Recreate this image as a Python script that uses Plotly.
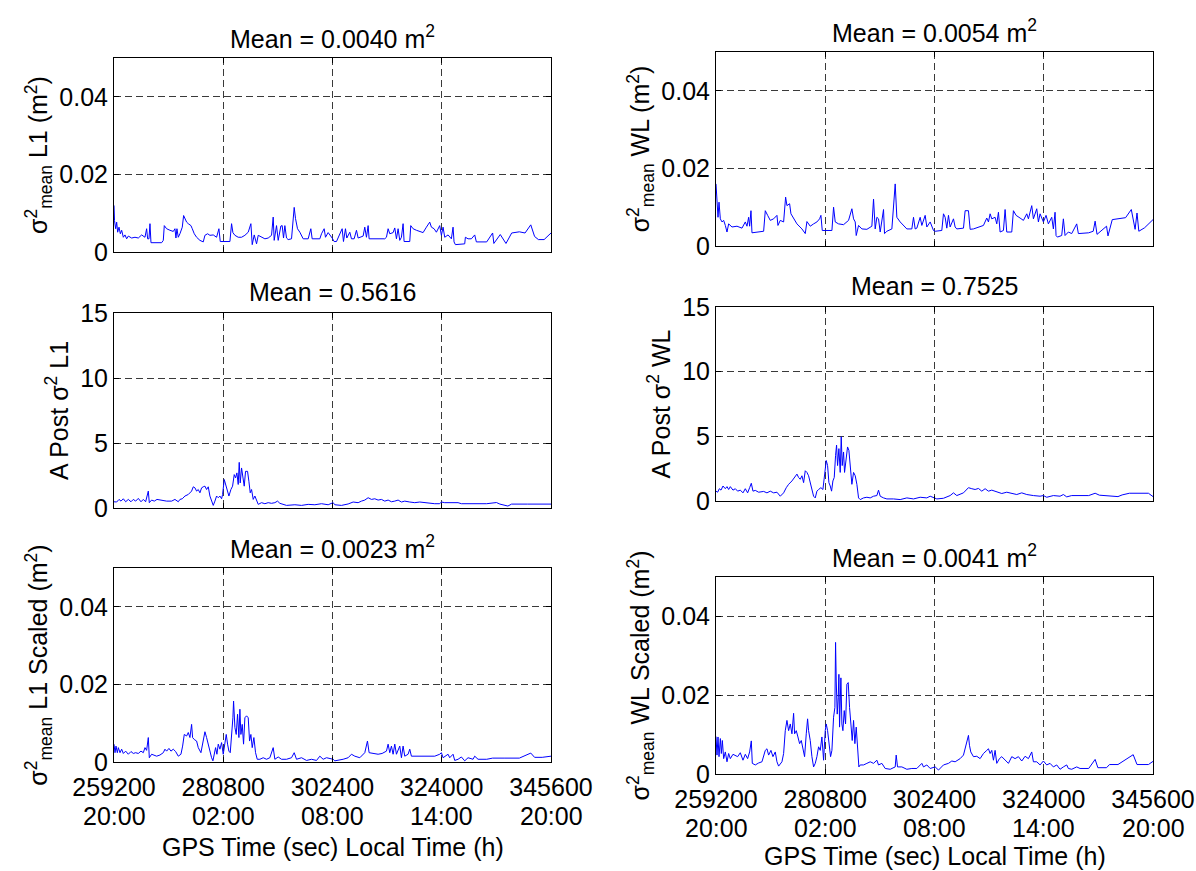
import plotly.graph_objects as go

# ---------------- data ----------------
GPS_TICKS = [259200, 280800, 302400, 324000, 345600]
GPS_TICK_TEXT = ["259200", "280800", "302400", "324000", "345600"]
LOCAL_TICK_TEXT = ["20:00", "02:00", "08:00", "14:00", "20:00"]

t_l1 = [259200, 259300, 259529, 259727, 259924, 260188, 260451, 260715, 261044, 261373, 261702, 262032,
        262690, 263349, 264007, 264666, 265324, 265653, 265851, 266114, 266312, 266509, 268617, 268946,
        269143, 269604, 270263, 270921, 271251, 271448, 271646, 271909, 272238, 272699, 272963, 273226,
        273555, 273885, 274411, 274675, 275070, 275531, 276189, 276848, 277177, 277704, 278165, 278823,
        279482, 279943, 280206, 282116, 282445, 282708, 283104, 283762, 284421, 285079, 285738, 286264,
        286528, 286923, 287384, 287713, 288372, 289030, 289689, 290347, 290676, 290874, 291335, 291664,
        292191, 292454, 292718, 292981, 293310, 293640, 294298, 294825, 295088, 295483, 295944, 296603,
        297591, 298117, 298381, 298908, 299895, 300225, 300751, 301015, 301542, 302332, 302727, 303188,
        304307, 304571, 304966, 305229, 305822, 306151, 306678, 307139, 307468, 308456, 308785, 309114,
        309444, 309641, 312736, 313065, 313395, 313724, 314382, 314712, 315041, 315370, 315699, 316029,
        316358, 316555, 317675, 317872, 318333, 318992, 319650, 320309, 320967, 321626, 321955, 322482,
        322943, 323601, 323931, 324260, 324589, 325248, 325906, 326235, 326433, 326696, 328540, 328672,
        329199, 329857, 330516, 330845, 332886, 334062, 334300, 335570, 336700, 337830, 339340, 340470,
        341600, 342355, 343110, 344240, 345600]
v_l1 = [0.0120, 0.0081, 0.0060, 0.0077, 0.0051, 0.0064, 0.0047, 0.0056, 0.0038, 0.0044, 0.0034, 0.0041,
        0.0036, 0.0038, 0.0036, 0.0044, 0.0038, 0.0060, 0.0034, 0.0034, 0.0073, 0.0024, 0.0024, 0.0030,
        0.0068, 0.0060, 0.0056, 0.0053, 0.0060, 0.0036, 0.0060, 0.0038, 0.0047, 0.0064, 0.0094, 0.0086,
        0.0077, 0.0073, 0.0068, 0.0060, 0.0047, 0.0038, 0.0030, 0.0026, 0.0043, 0.0047, 0.0043, 0.0044,
        0.0038, 0.0060, 0.0027, 0.0027, 0.0073, 0.0050, 0.0043, 0.0038, 0.0038, 0.0043, 0.0051, 0.0073,
        0.0019, 0.0044, 0.0021, 0.0043, 0.0038, 0.0034, 0.0036, 0.0043, 0.0090, 0.0030, 0.0068, 0.0030,
        0.0067, 0.0068, 0.0036, 0.0068, 0.0036, 0.0032, 0.0034, 0.0115, 0.0086, 0.0060, 0.0051, 0.0034,
        0.0034, 0.0060, 0.0034, 0.0034, 0.0034, 0.0047, 0.0060, 0.0038, 0.0050, 0.0036, 0.0027, 0.0027,
        0.0060, 0.0027, 0.0060, 0.0036, 0.0051, 0.0034, 0.0034, 0.0056, 0.0036, 0.0041, 0.0064, 0.0038,
        0.0068, 0.0034, 0.0034, 0.0038, 0.0060, 0.0047, 0.0050, 0.0062, 0.0034, 0.0060, 0.0030, 0.0038,
        0.0073, 0.0027, 0.0027, 0.0068, 0.0060, 0.0056, 0.0053, 0.0050, 0.0064, 0.0077, 0.0064, 0.0060,
        0.0051, 0.0068, 0.0043, 0.0064, 0.0038, 0.0044, 0.0034, 0.0064, 0.0026, 0.0019, 0.0021, 0.0038,
        0.0034, 0.0034, 0.0044, 0.0026, 0.0026, 0.0049, 0.0022, 0.0045, 0.0022, 0.0049, 0.0052, 0.0049,
        0.0070, 0.0040, 0.0032, 0.0032, 0.0049]

t_wl = [259200, 259398, 259595, 259793, 260056, 260385, 260715, 261044, 261373, 261702, 262361, 263349,
        264336, 264995, 265324, 265653, 265851, 266114, 266312, 268617, 268946, 269407, 269934, 270592,
        271251, 271448, 271909, 272567, 272963, 273226, 273753, 274016, 274543, 275202, 276189, 276848,
        277177, 277836, 278494, 279153, 279680, 279943, 280206, 282116, 282445, 282774, 283433, 284421,
        285408, 286067, 286396, 286725, 286923, 287384, 288042, 289030, 290018, 290347, 290676, 291006,
        291335, 291664, 292323, 292520, 292981, 293969, 294627, 294957, 295615, 296274, 296932, 297920,
        298249, 298578, 298908, 299566, 299895, 300554, 300883, 301542, 302200, 302529, 303846, 304176,
        304505, 304834, 305163, 305493, 306151, 306480, 306810, 308127, 308456, 309114, 309444, 310102,
        312078, 312736, 313065, 313395, 313724, 314382, 314712, 315041, 315370, 316029, 316358, 316687,
        317675, 318004, 318531, 319321, 319980, 320638, 320967, 321626, 321955, 322614, 322943, 323272,
        323931, 324457, 324918, 325577, 325906, 326235, 326433, 326696, 327552, 327882, 328211, 328869,
        329528, 330516, 330845, 332886, 333783, 334159, 334535, 336417, 336700, 337546, 340180, 341309,
        342061, 342438, 342800, 343943, 345600]
v_wl = [0.0160, 0.0113, 0.0074, 0.0113, 0.0070, 0.0062, 0.0066, 0.0053, 0.0036, 0.0057, 0.0049, 0.0051,
        0.0046, 0.0062, 0.0051, 0.0074, 0.0051, 0.0091, 0.0034, 0.0038, 0.0091, 0.0079, 0.0066, 0.0070,
        0.0079, 0.0053, 0.0066, 0.0062, 0.0126, 0.0104, 0.0109, 0.0083, 0.0070, 0.0057, 0.0044, 0.0032,
        0.0063, 0.0051, 0.0057, 0.0062, 0.0070, 0.0079, 0.0040, 0.0040, 0.0100, 0.0062, 0.0057, 0.0055,
        0.0066, 0.0096, 0.0070, 0.0062, 0.0027, 0.0053, 0.0044, 0.0043, 0.0051, 0.0121, 0.0044, 0.0074,
        0.0070, 0.0036, 0.0094, 0.0032, 0.0038, 0.0044, 0.0160, 0.0074, 0.0062, 0.0053, 0.0044, 0.0044,
        0.0074, 0.0044, 0.0046, 0.0074, 0.0053, 0.0079, 0.0049, 0.0062, 0.0040, 0.0038, 0.0040, 0.0083,
        0.0074, 0.0046, 0.0079, 0.0049, 0.0070, 0.0049, 0.0044, 0.0046, 0.0091, 0.0091, 0.0043, 0.0044,
        0.0053, 0.0072, 0.0062, 0.0083, 0.0070, 0.0074, 0.0057, 0.0087, 0.0036, 0.0040, 0.0094, 0.0036,
        0.0036, 0.0091, 0.0079, 0.0072, 0.0066, 0.0083, 0.0070, 0.0104, 0.0070, 0.0096, 0.0062, 0.0083,
        0.0062, 0.0079, 0.0057, 0.0074, 0.0044, 0.0087, 0.0027, 0.0023, 0.0027, 0.0070, 0.0027, 0.0036,
        0.0032, 0.0057, 0.0032, 0.0034, 0.0038, 0.0064, 0.0030, 0.0051, 0.0026, 0.0068, 0.0073, 0.0094,
        0.0043, 0.0085, 0.0038, 0.0047, 0.0068]

t_ap_l1 = [259200, 259727, 260188, 260583, 261044, 261505, 262032, 262558, 263019, 263480, 264007, 264534,
           264995, 265456, 265983, 266180, 266641, 267168, 267695, 268617, 269604, 270592, 271251, 271909,
           272238, 272699, 273226, 273885, 274543, 274872, 275202, 275531, 275860, 276189, 276519, 276848,
           277177, 277506, 277836, 278165, 278494, 278823, 279153, 279482, 279811, 280140, 280470, 280667,
           280996, 281260, 281655, 281918, 282313, 282643, 282972, 283235, 283499, 283762, 283960, 284158,
           284421, 284684, 284947, 285211, 285606, 285869, 286133, 286396, 286725, 287055, 287384, 287713,
           288372, 289030, 289689, 290347, 291006, 291532, 291993, 292652, 293310, 294957, 296274, 297591,
           298908, 300225, 301542, 302529, 302859, 304176, 305493, 306480, 307468, 308127, 308785, 309444,
           310102, 310761, 311419, 312078, 312736, 313395, 314053, 314712, 315370, 316029, 316687, 317675,
           318663, 319650, 320638, 321297, 322614, 323601, 323931, 324589, 325577, 326565, 327223, 327882,
           329199, 331175, 332886, 334816, 335500, 337078, 337800, 341000, 345600]
v_ap_l1 = [0.48, 0.46, 0.66, 0.53, 0.71, 0.48, 0.66, 0.48, 0.66, 0.53, 0.74, 0.48,
           0.66, 0.48, 1.30, 0.41, 0.61, 0.53, 0.66, 0.59, 0.53, 0.53, 0.66, 0.48,
           0.66, 0.71, 0.92, 1.04, 1.30, 1.63, 1.55, 1.30, 1.42, 1.17, 1.55, 1.63,
           1.68, 1.42, 1.63, 0.92, 0.53, 0.20, 0.53, 0.92, 0.79, 0.92, 0.71, 1.04,
           2.19, 1.81, 1.17, 0.92, 1.42, 1.68, 2.57, 2.32, 2.70, 1.81, 3.51, 1.93,
           3.08, 2.19, 1.68, 2.82, 2.82, 2.06, 1.17, 1.42, 0.66, 0.92, 0.53, 0.28,
           0.41, 0.33, 0.41, 0.36, 0.41, 0.53, 0.36, 0.28, 0.20, 0.25, 0.20, 0.28,
           0.25, 0.33, 0.25, 0.41, 0.25, 0.20, 0.31, 0.46, 0.41, 0.53, 0.61, 0.79,
           0.66, 0.71, 0.61, 0.66, 0.53, 0.61, 0.48, 0.53, 0.61, 0.46, 0.53, 0.46,
           0.41, 0.46, 0.41, 0.41, 0.33, 0.33, 0.46, 0.41, 0.41, 0.46, 0.41, 0.33,
           0.33, 0.33, 0.33, 0.42, 0.30, 0.15, 0.30, 0.30, 0.30]

t_ap_wl = [259200, 259529, 259859, 260188, 260583, 261044, 261373, 261702, 262032, 262558, 263019, 263480,
           264007, 264534, 264995, 265456, 265851, 266180, 266509, 266970, 267629, 268617, 269275, 269934,
           270592, 271251, 271909, 272567, 273094, 273555, 274214, 274872, 275202, 275531, 275860, 276189,
           276519, 276848, 277177, 277506, 277836, 278165, 278494, 278823, 279153, 279482, 279943, 280338,
           280667, 280996, 281260, 281523, 281787, 282050, 282313, 282577, 282840, 283038, 283235, 283499,
           283762, 283960, 284158, 284421, 284618, 284882, 285211, 285474, 285738, 286067, 286396, 286725,
           287055, 287384, 287713, 288372, 289030, 289689, 290347, 291006, 291335, 291664, 292323, 292981,
           294298, 295615, 296932, 298249, 299566, 300883, 301542, 302200, 302859, 304176, 305493, 306151,
           306810, 308127, 309114, 309773, 310431, 311090, 311748, 312407, 313065, 313724, 314712, 315699,
           316687, 317675, 318663, 319650, 320638, 321955, 323272, 323931, 324589, 325906, 327223, 327882,
           328540, 329528, 332886, 334159, 335000, 338675, 339500, 340933, 344696, 345600]
v_ap_wl = [0.76, 0.68, 0.95, 0.84, 1.16, 0.95, 1.11, 0.89, 1.11, 0.84, 0.95, 0.76,
           0.84, 0.63, 0.95, 0.63, 1.03, 1.37, 0.76, 0.82, 0.68, 0.74, 0.63, 0.76,
           0.63, 0.68, 0.37, 0.63, 1.03, 1.29, 1.55, 1.95, 2.08, 1.82, 1.68, 1.95,
           1.42, 2.34, 2.21, 1.95, 1.42, 0.76, 0.37, 0.24, 0.76, 0.89, 1.03, 0.89,
           1.82, 3.13, 2.74, 1.42, 1.16, 0.76, 1.55, 1.82, 3.53, 4.32, 2.74, 4.05,
           2.21, 4.97, 2.74, 3.79, 2.21, 3.00, 4.18, 3.92, 2.74, 1.29, 2.21, 1.95,
           1.29, 0.24, 0.11, 0.24, 0.29, 0.24, 0.37, 0.42, 0.84, 0.37, 0.24, 0.16,
           0.16, 0.11, 0.24, 0.16, 0.29, 0.24, 0.37, 0.29, 0.16, 0.21, 0.42, 0.63,
           0.42, 0.63, 1.03, 0.95, 0.89, 0.97, 0.76, 0.95, 0.76, 0.84, 0.68, 0.58,
           0.68, 0.58, 0.50, 0.63, 0.50, 0.42, 0.37, 0.42, 0.29, 0.42, 0.37, 0.50,
           0.32, 0.42, 0.42, 0.60, 0.45, 0.34, 0.47, 0.60, 0.60, 0.34]

t_l1s = [259200, 259398, 259595, 259859, 260056, 260385, 260715, 261044, 261505, 262032, 262558, 263019,
         263480, 264007, 264534, 264995, 265324, 265653, 265983, 266180, 266641, 267629, 268287, 268946,
         269275, 269604, 270065, 270460, 270921, 271382, 271909, 272436, 272765, 273094, 273555, 273885,
         274214, 274543, 274741, 275070, 275531, 275860, 276387, 276848, 277177, 277506, 277836, 278165,
         278494, 278757, 279021, 279284, 279548, 279811, 280140, 280470, 280799, 281128, 281391, 281655,
         281918, 282182, 282445, 282708, 282840, 283104, 283367, 283630, 283894, 284091, 284289, 284552,
         284816, 285079, 285408, 285738, 286001, 286264, 286528, 286857, 287186, 287516, 288042, 288701,
         289359, 290018, 290676, 291006, 291664, 292323, 293310, 294298, 294825, 295286, 296274, 297261,
         298249, 299237, 299895, 300554, 301212, 302529, 302859, 303517, 304505, 305493, 306151, 306810,
         307797, 308785, 309312, 309641, 310431, 311419, 312209, 313065, 313395, 313724, 314053, 314382,
         314712, 315041, 315699, 316029, 316358, 316687, 317346, 317675, 318004, 318992, 320309, 321297,
         322614, 323601, 323931, 324260, 325248, 325577, 326235, 326565, 327223, 327882, 328540, 329199,
         330186, 330516, 331175, 332886, 334062, 336324, 339340, 341600, 342355, 343863, 345600]
v_l1s = [0.0046, 0.0024, 0.0041, 0.0024, 0.0037, 0.0024, 0.0033, 0.0022, 0.0028, 0.0020, 0.0027, 0.0022,
         0.0024, 0.0022, 0.0028, 0.0024, 0.0037, 0.0030, 0.0063, 0.0011, 0.0020, 0.0015, 0.0018, 0.0024,
         0.0033, 0.0028, 0.0035, 0.0028, 0.0033, 0.0027, 0.0015, 0.0020, 0.0041, 0.0071, 0.0067, 0.0076,
         0.0063, 0.0097, 0.0063, 0.0058, 0.0054, 0.0037, 0.0024, 0.0054, 0.0078, 0.0063, 0.0046, 0.0024,
         0.0011, 0.0003, 0.0024, 0.0037, 0.0020, 0.0046, 0.0033, 0.0050, 0.0020, 0.0054, 0.0071, 0.0046,
         0.0028, 0.0024, 0.0063, 0.0114, 0.0157, 0.0089, 0.0071, 0.0123, 0.0063, 0.0136, 0.0071, 0.0097,
         0.0046, 0.0114, 0.0119, 0.0114, 0.0054, 0.0071, 0.0037, 0.0063, 0.0024, 0.0007, 0.0007, 0.0011,
         0.0007, 0.0011, 0.0037, 0.0007, 0.0013, 0.0007, 0.0007, 0.0011, 0.0024, 0.0007, 0.0011, 0.0004,
         0.0007, 0.0004, 0.0015, 0.0007, 0.0011, 0.0007, 0.0003, 0.0004, 0.0007, 0.0011, 0.0020, 0.0015,
         0.0011, 0.0024, 0.0054, 0.0024, 0.0022, 0.0020, 0.0022, 0.0028, 0.0046, 0.0024, 0.0041, 0.0020,
         0.0046, 0.0020, 0.0041, 0.0011, 0.0041, 0.0015, 0.0020, 0.0033, 0.0015, 0.0015, 0.0015, 0.0015,
         0.0015, 0.0020, 0.0024, 0.0011, 0.0020, 0.0011, 0.0020, 0.0004, 0.0007, 0.0013, 0.0003, 0.0011,
         0.0007, 0.0015, 0.0007, 0.0007, 0.0010, 0.0010, 0.0010, 0.0023, 0.0012, 0.0012, 0.0015]

t_wls = [259200, 259398, 259595, 259793, 260056, 260254, 260451, 260715, 261044, 261373, 261702, 262032,
         262558, 263019, 263480, 264007, 264534, 264995, 265456, 265851, 266180, 266378, 266970, 267629,
         268287, 268946, 269275, 269604, 270065, 270460, 270921, 271251, 271580, 272238, 272567, 272897,
         273226, 273555, 273885, 274214, 274543, 274741, 275070, 275399, 275728, 276058, 276387, 276716,
         277045, 277309, 277506, 277836, 278165, 278494, 278823, 279153, 279482, 279811, 280140, 280470,
         280799, 280996, 281260, 281589, 281852, 282116, 282445, 282708, 282840, 282972, 283169, 283367,
         283499, 283630, 283894, 284091, 284289, 284552, 284816, 285079, 285342, 285606, 285869, 286133,
         286396, 286659, 286923, 287186, 287450, 287713, 288372, 289030, 289689, 290347, 291006, 291335,
         291993, 292652, 293640, 294627, 294825, 295088, 295944, 296932, 297920, 298908, 299895, 300225,
         300883, 301542, 302529, 303188, 304176, 305163, 305822, 306480, 307468, 308127, 308653, 309114,
         309312, 309575, 310102, 310761, 311419, 312078, 312736, 313065, 313395, 313724, 314053, 314382,
         314712, 315238, 315699, 316358, 317016, 317675, 318333, 318992, 319650, 320309, 320967, 321626,
         321955, 322614, 323272, 323931, 324589, 325248, 325906, 326565, 327223, 327882, 328540, 328869,
         329528, 330516, 331175, 332886, 334159, 334700, 336417, 337000, 338675, 341685, 342438, 344696,
         345600]
v_wls = [0.0095, 0.0048, 0.0094, 0.0044, 0.0090, 0.0052, 0.0085, 0.0039, 0.0056, 0.0031, 0.0052, 0.0039,
         0.0050, 0.0048, 0.0044, 0.0054, 0.0035, 0.0050, 0.0039, 0.0056, 0.0084, 0.0027, 0.0023, 0.0028,
         0.0031, 0.0060, 0.0064, 0.0048, 0.0060, 0.0044, 0.0056, 0.0031, 0.0020, 0.0031, 0.0052, 0.0110,
         0.0136, 0.0110, 0.0127, 0.0102, 0.0154, 0.0102, 0.0110, 0.0094, 0.0077, 0.0085, 0.0060, 0.0044,
         0.0102, 0.0140, 0.0110, 0.0085, 0.0044, 0.0018, 0.0027, 0.0044, 0.0069, 0.0060, 0.0094, 0.0035,
         0.0110, 0.0127, 0.0110, 0.0069, 0.0044, 0.0060, 0.0144, 0.0169, 0.0334, 0.0236, 0.0152, 0.0194,
         0.0253, 0.0119, 0.0244, 0.0127, 0.0110, 0.0161, 0.0127, 0.0228, 0.0232, 0.0169, 0.0127, 0.0085,
         0.0136, 0.0077, 0.0119, 0.0069, 0.0018, 0.0023, 0.0023, 0.0027, 0.0031, 0.0027, 0.0035, 0.0023,
         0.0027, 0.0014, 0.0012, 0.0018, 0.0048, 0.0018, 0.0018, 0.0012, 0.0014, 0.0014, 0.0027, 0.0018,
         0.0023, 0.0014, 0.0018, 0.0010, 0.0023, 0.0027, 0.0033, 0.0031, 0.0039, 0.0048, 0.0073, 0.0098,
         0.0073, 0.0056, 0.0044, 0.0045, 0.0039, 0.0052, 0.0060, 0.0064, 0.0052, 0.0060, 0.0035, 0.0060,
         0.0027, 0.0039, 0.0044, 0.0035, 0.0027, 0.0044, 0.0039, 0.0044, 0.0033, 0.0045, 0.0039, 0.0056,
         0.0031, 0.0031, 0.0023, 0.0033, 0.0023, 0.0027, 0.0018, 0.0023, 0.0012, 0.0018, 0.0023, 0.0014,
         0.0012, 0.0018, 0.0014, 0.0014, 0.0037, 0.0016, 0.0016, 0.0024, 0.0024, 0.0049, 0.0024, 0.0024,
         0.0032]

TITLES = ["Mean = 0.0040 m<sup>2</sup>", "Mean = 0.0054 m<sup>2</sup>",
          "Mean = 0.5616", "Mean = 0.7525",
          "Mean = 0.0023 m<sup>2</sup>", "Mean = 0.0041 m<sup>2</sup>"]
YLABELS = ["σ<sup>2</sup><sub>mean</sub> L1 (m<sup>2</sup>)",
           "σ<sup>2</sup><sub>mean</sub> WL (m<sup>2</sup>)",
           "A Post σ<sup>2</sup> L1",
           "A Post σ<sup>2</sup> WL",
           "σ<sup>2</sup><sub>mean</sub> L1 Scaled (m<sup>2</sup>)",
           "σ<sup>2</sup><sub>mean</sub> WL Scaled (m<sup>2</sup>)"]
XLABEL = "GPS Time (sec) Local Time (h)"

VAR_TICKS = [0, 0.02, 0.04]
VAR_TICK_TEXT = ["0", "0.02", "0.04"]
AP_TICKS = [0, 5, 10, 15]
AP_TICK_TEXT = ["0", "5", "10", "15"]

SERIES = [(t_l1, v_l1), (t_wl, v_wl), (t_ap_l1, v_ap_l1), (t_ap_wl, v_ap_wl), (t_l1s, v_l1s), (t_wls, v_wls)]

# ---------------- layout ----------------
W, H = 1196, 871
FONT = "Liberation Sans, Arial, Helvetica, sans-serif"
FS = 25

# pixel boxes (left, top, right, bottom)
BOXES = [(114, 58, 551, 252), (716, 52, 1153, 246),
         (114, 313, 551, 508), (716, 307, 1153, 501),
         (114, 568, 551, 762), (716, 577, 1153, 774)]

fig = go.Figure()
annotations = []
layout = dict(width=W, height=H, margin=dict(l=0, r=0, t=0, b=0, autoexpand=False),
              paper_bgcolor="white", plot_bgcolor="white",
              font=dict(family=FONT, size=FS, color="black"), showlegend=False)

for i, ((t, v), box) in enumerate(zip(SERIES, BOXES)):
    k = i + 1
    xa = "x" if k == 1 else f"x{k}"
    ya = "y" if k == 1 else f"y{k}"
    fig.add_trace(go.Scatter(x=t, y=v, mode="lines", xaxis=xa, yaxis=ya,
                             line=dict(color="#0000ff", width=1), hoverinfo="skip"))
    l, tp, r, b = box
    xdom = [l / W, r / W]
    ydom = [1 - b / H, 1 - tp / H]
    is_bottom = i >= 4
    is_ap = i in (2, 3)
    common = dict(showline=True, linecolor="black", linewidth=1, mirror="ticks",
                  ticks="inside", ticklen=5, tickcolor="black", tickwidth=1,
                  showgrid=True, gridcolor="#3a3a3a", gridwidth=1, griddash="7px,4px",
                  zeroline=False, automargin=False,
                  tickfont=dict(family=FONT, size=FS, color="black"))
    layout["xaxis" if k == 1 else f"xaxis{k}"] = dict(
        domain=xdom, anchor=ya, range=[GPS_TICKS[0], GPS_TICKS[-1]],
        tickmode="array", tickvals=GPS_TICKS, ticktext=GPS_TICK_TEXT,
        showticklabels=is_bottom, ticklabelstandoff=3, **common)
    layout["yaxis" if k == 1 else f"yaxis{k}"] = dict(
        domain=ydom, anchor=xa, range=[0, 15] if is_ap else [0, 0.05],
        tickmode="array", tickvals=AP_TICKS if is_ap else VAR_TICKS,
        ticktext=AP_TICK_TEXT if is_ap else VAR_TICK_TEXT,
        title=dict(text=YLABELS[i], font=dict(family=FONT, size=FS), standoff=4),
        **common)
    # panel title
    annotations.append(dict(text=TITLES[i], xref="paper", yref="paper",
                            x=(xdom[0] + xdom[1]) / 2, y=ydom[1], yshift=21,
                            xanchor="center", yanchor="middle", showarrow=False,
                            borderpad=0, font=dict(family=FONT, size=FS, color="black")))
    if is_bottom:
        for tv, lt in zip(GPS_TICKS, LOCAL_TICK_TEXT):
            annotations.append(dict(text=lt, xref=xa, yref="paper", x=tv, y=ydom[0],
                                    yshift=-54, xanchor="center", yanchor="middle",
                                    showarrow=False, borderpad=0,
                                    font=dict(family=FONT, size=FS, color="black")))
        annotations.append(dict(text=XLABEL, xref="paper", yref="paper",
                                x=(xdom[0] + xdom[1]) / 2, y=ydom[0],
                                yshift=-85 if i == 4 else -82,
                                xanchor="center", yanchor="middle", showarrow=False,
                                borderpad=0, font=dict(family=FONT, size=FS, color="black")))

layout["annotations"] = annotations
fig.update_layout(**layout)
fig.write_html("out.html")
